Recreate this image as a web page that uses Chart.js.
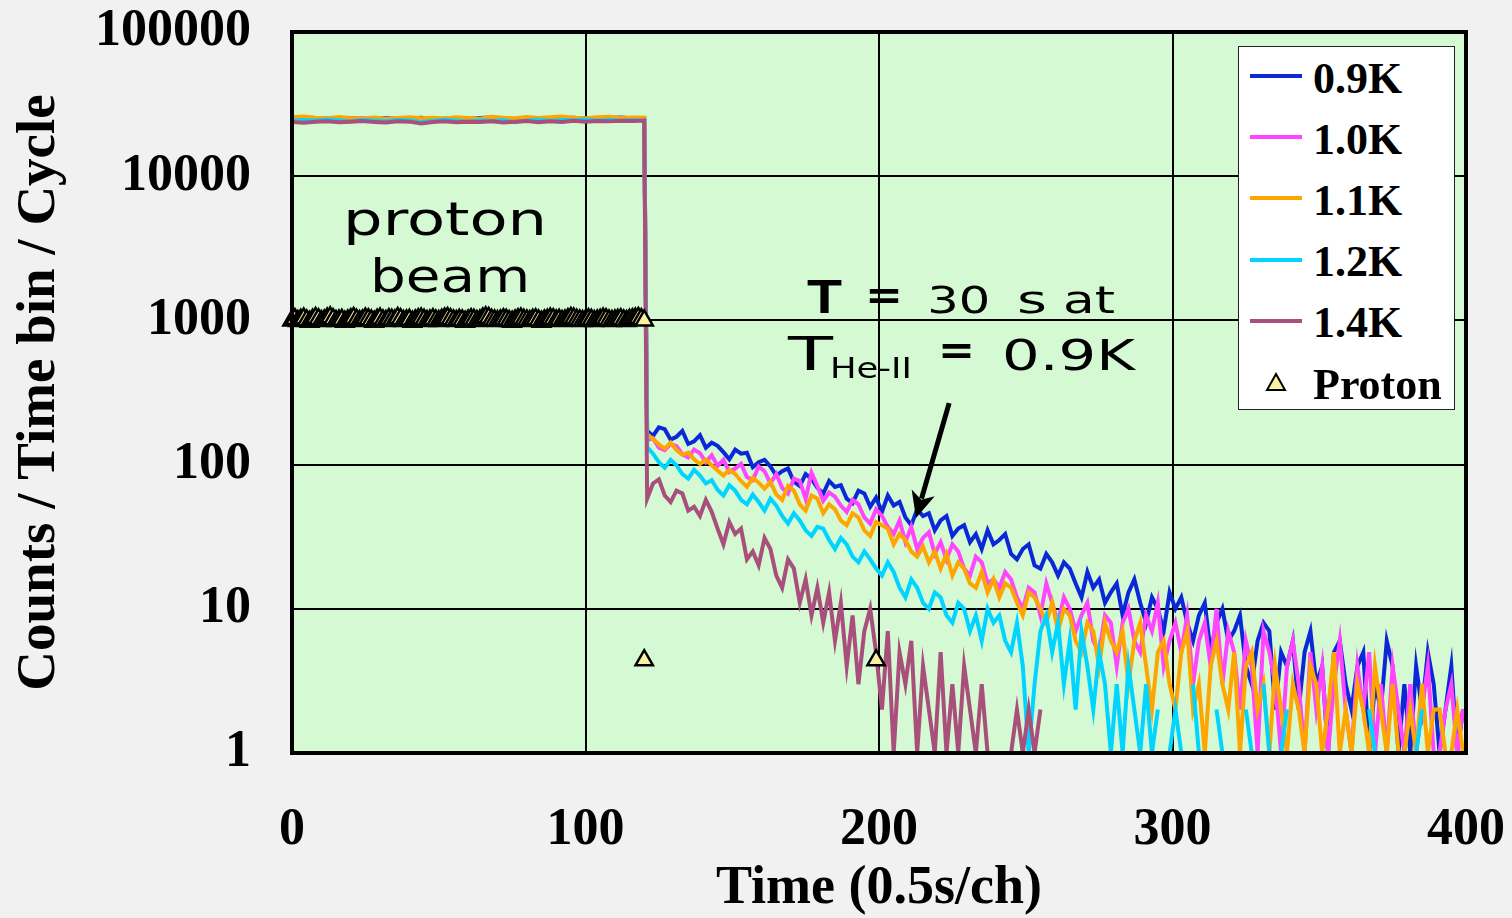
<!DOCTYPE html>
<html>
<head>
<meta charset="utf-8">
<title>Counts / Time bin / Cycle</title>
<script src="https://cdn.jsdelivr.net/npm/chart.js@4.4.1/dist/chart.umd.min.js"></script>
<style>
  html, body { margin: 0; padding: 0; background: #f1f1f1; }
  #wrap { position: relative; width: 1512px; height: 918px; }
  canvas { display: block; }
  .legend {
    position: absolute; left: 1238px; top: 46px; width: 217px; height: 364px;
    box-sizing: border-box; background: #fff; border: 1.5px solid #222;
    font: bold 44px "Liberation Serif", serif; color: #000;
  }
  .legend .swatch { position: absolute; left: 11px; width: 52px; height: 4px; }
  .legend .label { position: absolute; left: 74px; height: 61px; line-height: 61px; white-space: nowrap; }
  .legend svg { position: absolute; left: 26px; }
</style>
</head>
<body>
<div id="wrap">
  <canvas id="chart" width="1512" height="918"></canvas>
  <div class="legend" id="legend"></div>
</div>
<script>
// channel numbers (0.5 s per channel)
const flatChannel = [0,4,8,12,16,20,24,28,32,36,40,44,48,52,56,60,64,68,72,76,80,84,88,92,96,100,104,108,112,116,120];
const decayChannel = [
  121,123,125,127,129,131,133,135,137,139,
  141,143,145,147,149,151,153,155,157,159,
  161,163,165,167,169,171,173,175,177,179,
  181,183,185,187,189,191,193,195,197,199,
  201,203,205,207,209,211,213,215,217,219,
  221,223,225,227,229,231,233,235,237,239,
  241,243,245,247,249,251,253,255,257,259,
  261,263,265,267,269,271,273,275,277,279,
  281,283,285,287,289,291,293,295,297,299,
  301,303,305,307,309,311,313,315,317,319,
  321,323,325,327,329,331,333,335,337,339,
  341,343,345,347,349,351,353,355,357,359,
  361,363,365,367,369,371,373,375,377,379,
  381,383,385,387,389,391,393,395,397,399
];

const seriesNames = ['0.9K', '1.0K', '1.1K', '1.2K', '1.4K'];
const seriesColors = ['#0b28d8', '#ff45ff', '#ffa500', '#00d4ff', '#a84f7c'];

// counts while the proton beam is on
const flat09 = [24800,25300,24900,25100,24700,25200,25000,24800,25300,24900,25100,25400,24800,25000,25200,24900,25300,25500,25000,24800,25100,25300,24900,25200,25400,25000,25100,25300,25500,25200,25300];
const flat10 = [24500,24900,25100,24700,25000,24800,25200,24600,25000,24900,24700,25100,24800,24600,25000,25200,24700,24900,25100,24800,24500,24900,25000,24700,25100,24800,24900,25000,24600,24800,24500];
const flat11 = [25600,25900,25400,25200,25700,25300,25100,25500,25000,25300,25600,25200,25400,25100,25600,25300,25000,25800,25400,25200,25700,25300,25600,25900,25400,25200,25600,25800,25300,25500,25400];
const flat12 = [24200,24500,24300,24700,24400,24000,24600,24300,24100,24500,24400,23800,24200,24600,24300,23900,24400,24100,24500,23700,24300,24600,24200,24500,24400,24700,24300,24600,24200,24500,24300];
const flat14 = [23800,23500,23900,24000,23700,23900,24100,23800,23600,24000,23900,23200,23800,24000,23700,23900,23800,24000,23600,23900,24100,23700,24000,23800,24200,23900,24100,24000,24200,24100,24300];

// counts after the beam (null = zero count, not drawn on log axis)
const decay09 = [
  172,158,181,176,149,156,171,139,145,160,
  131,142,135,122,109,127,119,121,96,104,
  108,97,84,90,94,76,71,86,80,69,
  63,77,70,72,58,54,66,63,51,59,
  47,61,52,55,43,38,49,44,46,35,
  41,44,32,36,38,29,33,26,35,28,
  30,33,24,22,26,28,20,19,24,21,
  17,21,19,15,12,18,14,16,11,13,
  15,9,13,16,11,8,12,10,7,13,
  10,12,8,6,9,11,5,8,10,6,
  7,9,4,3,6,8,7,2,5,4,
  6,2,5,7,3,4,1,5,6,3,
  2,4,5,1,3,2,6,4,1,3,
  1,4,2,5,3,1,2,4,1,2
];
const decay10 = [
  148,152,131,126,139,134,118,112,127,120,
  104,116,98,108,89,94,101,82,78,97,
  90,74,86,69,63,80,77,58,88,71,
  56,64,60,52,47,57,53,43,39,49,
  44,37,33,41,29,37,26,31,34,24,
  29,22,28,25,19,17,23,21,15,16,
  14,18,16,12,10,14,13,9,15,11,
  8,12,10,7,9,11,6,5,9,8,
  4,8,10,6,5,9,7,11,4,6,
  8,5,9,3,6,8,4,10,3,7,
  5,2,6,4,1,7,5,3,1,4,
  6,3,1,5,2,4,1,3,6,2,
  1,4,2,5,1,3,1,4,2,1,
  3,1,2,4,1,1,2,3,1,2
];
const decay11 = [
  162,151,138,129,142,126,117,121,109,101,
  108,99,91,84,92,86,77,70,81,75,
  68,76,62,57,71,66,53,48,61,58,
  46,53,49,41,38,46,43,35,32,40,
  38,36,28,33,30,25,23,27,21,25,
  19,24,17,21,19,15,14,18,13,16,
  12,15,14,11,9,13,12,10,8,11,
  7,10,9,6,5,8,7,4,8,6,
  5,7,3,6,8,4,2,5,6,3,
  2,5,7,2,3,1,4,6,3,2,
  5,1,4,5,2,3,1,4,2,1,
  3,2,1,4,3,1,2,5,1,2,
  1,3,2,1,4,2,1,3,1,1,
  2,1,3,1,2,2,1,1,2,1
];
const decay12 = [
  132,119,104,95,108,99,86,80,92,84,
  74,78,67,61,72,66,57,53,62,55,
  48,58,52,44,39,46,41,35,32,37,
  36,30,26,31,28,23,21,25,22,19,
  17,21,18,14,12,16,14,11,10,13,
  12,9,8,11,10,7,9,6,10,8,
  9,6,5,8,4,1,3,7,9,5,
  8,3,6,2,7,4,2,5,3,1,
  3,1,4,2,1,3,1,2,null,1,
  2,1,null,3,1,1,null,2,1,null,
  1,null,2,1,null,3,1,null,1,2,
  null,1,1,null,2,null,1,1,null,null,
  1,null,null,2,1,null,null,1,null,1,
  null,1,2,null,1,null,null,1,null,null
];
const decay14 = [
  58,74,79,61,55,66,63,48,51,44,
  57,47,36,28,40,33,36,22,25,20,
  31,26,17,14,22,19,11,16,9,14,
  8,13,6,11,4,9,3,7,10,5,
  2,7,1,5,3,6,1,4,2,1,
  5,1,3,1,4,2,1,3,1,null,
  3,null,1,2,1,2,1,2,null,null,
  null,null,null,null,null,null,null,null,null,null,
  null,1,null,null,null,null,null,null,null,null,
  null,null,null,null,null,null,null,null,null,null,
  null,null,null,null,null,null,null,null,null,null,
  null,null,null,null,null,null,null,null,null,null,
  null,null,null,null,null,null,null,null,null,null,
  null,null,null,null,null,null,null,null,null,null
];

// proton monitor
const protonChannel = [
  0,1,2,3,4,5,6,7,8,9,
  10,11,12,13,14,15,16,17,18,19,
  20,21,22,23,24,25,26,27,28,29,
  30,31,32,33,34,35,36,37,38,39,
  40,41,42,43,44,45,46,47,48,49,
  50,51,52,53,54,55,56,57,58,59,
  60,61,62,63,64,65,66,67,68,69,
  70,71,72,73,74,75,76,77,78,79,
  80,81,82,83,84,85,86,87,88,89,
  90,91,92,93,94,95,96,97,98,99,
  100,101,102,103,104,105,106,107,108,109,
  110,111,112,113,114,115,116,117,118,119,
  120,120,199
];
const protonCount = [
  1000,1020,990,1010,1030,1000,980,1010,1040,1020,
  990,1000,1030,1050,1020,990,1000,1010,980,1000,
  1020,1040,1010,990,1000,1030,1020,1000,980,1010,
  1030,1000,990,1020,1010,1000,1040,1020,990,1000,
  1010,980,1000,1020,1030,1010,990,1000,1020,1000,
  990,1010,1030,1040,1020,1000,990,1010,1000,980,
  1000,1020,1010,990,1000,1030,1050,1040,1010,1000,
  990,1000,1020,1010,990,980,1000,1020,1030,1010,
  1000,990,1010,1020,1000,980,1000,1010,1030,1020,
  1000,1010,990,1000,1020,1040,1030,1010,1000,990,
  1000,1020,1010,990,1000,1010,1030,1020,1000,990,
  1000,1010,1020,1000,990,1010,1020,1030,1040,1020,
  1000,4.4,4.4
];

const yTicks = [1, 10, 100, 1000, 10000, 100000];
const xTitle = 'Time (0.5s/ch)';
const yTitle = 'Counts / Time bin / Cycle';

const flatSets = [flat09, flat10, flat11, flat12, flat14];
const decaySets = [decay09, decay10, decay11, decay12, decay14];

function toPoints(flat, decay) {
  const a = flatChannel.map((t, i) => ({ x: t, y: flat[i] }));
  const b = decayChannel.map((t, i) => ({ x: t, y: decay[i] }));
  return a.concat(b);
}

const datasets = seriesNames.map((name, i) => ({
  label: name,
  data: toPoints(flatSets[i], decaySets[i]),
  borderColor: seriesColors[i],
  backgroundColor: seriesColors[i],
  borderWidth: 4,
  pointRadius: 0,
  tension: 0,
  spanGaps: false,
  order: seriesNames.length - i
}));

datasets.push({
  label: 'Proton',
  data: protonChannel.map((t, i) => ({ x: t, y: protonCount[i] })),
  showLine: false,
  pointStyle: 'triangle',
  pointRadius: 10,
  pointBorderWidth: 2.5,
  pointBackgroundColor: '#f9f0a0',
  pointBorderColor: '#000',
  order: 0,
  clip: false
});

// hand written notes, placed in data coordinates
const notes = [
  { text: 'proton', t: 17.4, v: 3910, w: 204, font: '46px "DejaVu Sans"' },
  { text: 'beam', t: 26.6, v: 1574, w: 160, font: '46px "DejaVu Sans"' },
  { text: 'T', t: 175.5, v: 1125, w: 35, font: 'bold 49px "Liberation Sans"' },
  { text: '=', t: 195.2, v: 1191, w: 38, font: 'bold 40px "DejaVu Sans"' },
  { text: '30', t: 216.4, v: 1125, w: 63, font: '38px "DejaVu Sans"' },
  { text: 's', t: 247.0, v: 1125, w: 30, font: '38px "DejaVu Sans"' },
  { text: 'at', t: 262.7, v: 1125, w: 52, font: '38px "DejaVu Sans"' },
  { text: 'T', t: 169.0, v: 453, w: 45, font: '46px "DejaVu Sans"' },
  { text: 'He-II', t: 183.3, v: 399, w: 82, font: '29px "DejaVu Sans"' },
  { text: '=', t: 220.1, v: 499, w: 37, font: 'bold 40px "DejaVu Sans"' },
  { text: '0.9K', t: 241.9, v: 453, w: 133, font: '42px "DejaVu Sans"' }
];
const arrowFrom = { t: 223.9, v: 267 };
const arrowTo = { t: 212.6, v: 42.7 };

const plotFrame = {
  id: 'plotFrame',
  beforeDraw(chart) {
    const { ctx, chartArea: a } = chart;
    ctx.save();
    ctx.fillStyle = '#d5f9d3';
    ctx.fillRect(a.left, a.top, a.width, a.height);
    ctx.restore();
  },
  afterDatasetsDraw(chart) {
    const { ctx, chartArea: a, scales } = chart;
    ctx.save();
    ctx.strokeStyle = '#000';
    ctx.lineWidth = 4;
    ctx.strokeRect(a.left, a.top, a.width, a.height);

    ctx.fillStyle = '#000';
    ctx.textAlign = 'left';
    ctx.textBaseline = 'alphabetic';
    notes.forEach(n => {
      ctx.font = n.font;
      const m = ctx.measureText(n.text).width;
      ctx.save();
      ctx.translate(scales.x.getPixelForValue(n.t), scales.y.getPixelForValue(n.v));
      ctx.scale(n.w / m, 1);
      ctx.fillText(n.text, 0, 0);
      ctx.restore();
    });

    // arrow
    const x0 = scales.x.getPixelForValue(arrowFrom.t), y0 = scales.y.getPixelForValue(arrowFrom.v);
    const x1 = scales.x.getPixelForValue(arrowTo.t), y1 = scales.y.getPixelForValue(arrowTo.v);
    const len = Math.hypot(x1 - x0, y1 - y0);
    const dx = (x1 - x0) / len, dy = (y1 - y0) / len;
    const bx = x1 - dx * 26, by = y1 - dy * 26;
    ctx.lineWidth = 5;
    ctx.beginPath();
    ctx.moveTo(x0, y0);
    ctx.lineTo(bx + dx * 6, by + dy * 6);
    ctx.stroke();
    ctx.beginPath();
    ctx.moveTo(x1, y1);
    ctx.lineTo(bx - dy * 12, by + dx * 12);
    ctx.lineTo(bx + dx * 7, by + dy * 7);
    ctx.lineTo(bx + dy * 12, by - dx * 12);
    ctx.closePath();
    ctx.fill();

    // x axis title, below the tick labels
    ctx.font = 'bold 54px "Liberation Serif", serif';
    ctx.textAlign = 'center';
    ctx.textBaseline = 'middle';
    ctx.fillText(xTitle, (a.left + a.right) / 2, a.bottom + 136);
    ctx.restore();
  }
};

const tickFont = { family: '"Liberation Serif", serif', size: 52, weight: 'bold' };

new Chart(document.getElementById('chart').getContext('2d'), {
  type: 'line',
  data: { datasets },
  options: {
    responsive: false,
    animation: false,
    events: [],
    layout: { padding: 0 },
    plugins: {
      legend: { display: false },
      tooltip: { enabled: false }
    },
    scales: {
      x: {
        type: 'linear',
        min: 0,
        max: 400,
        ticks: { stepSize: 100, color: '#000', font: tickFont, padding: 46, maxRotation: 0 },
        grid: { color: '#000', lineWidth: 2, drawTicks: false },
        border: { display: false },
        afterFit: s => {
          s.height = 165;
          s.paddingLeft = 0;
          s.paddingRight = 46;
        }
      },
      y: {
        type: 'logarithmic',
        min: 1,
        max: 100000,
        afterBuildTicks: s => { s.ticks = yTicks.map(v => ({ value: v })); },
        ticks: { color: '#000', font: tickFont, padding: 41, callback: v => String(v) },
        grid: { color: '#000', lineWidth: 2, drawTicks: false },
        border: { display: false },
        title: {
          display: true,
          text: yTitle,
          color: '#000',
          font: { family: '"Liberation Serif", serif', size: 55, weight: 'bold' },
          padding: { top: 7, bottom: 0 }
        },
        afterFit: s => {
          s.width = 292;
          s.paddingTop = 32;
          s.paddingBottom = 0;
        }
      }
    }
  },
  plugins: [plotFrame]
});

// legend box
const legend = document.getElementById('legend');
const rowStep = 61.2;
seriesNames.concat(['Proton']).forEach((name, i) => {
  const cy = 29 + rowStep * i;
  if (i < seriesNames.length) {
    const sw = document.createElement('div');
    sw.className = 'swatch';
    sw.style.top = (cy - 2) + 'px';
    sw.style.background = seriesColors[i];
    legend.appendChild(sw);
  } else {
    const ns = 'http://www.w3.org/2000/svg';
    const svg = document.createElementNS(ns, 'svg');
    svg.setAttribute('width', '22');
    svg.setAttribute('height', '20');
    svg.style.top = (cy - 10) + 'px';
    const tri = document.createElementNS(ns, 'polygon');
    tri.setAttribute('points', '11,2 20,18 2,18');
    tri.setAttribute('fill', '#f9f0a0');
    tri.setAttribute('stroke', '#000');
    tri.setAttribute('stroke-width', '2');
    svg.appendChild(tri);
    legend.appendChild(svg);
  }
  const lb = document.createElement('div');
  lb.className = 'label';
  lb.style.top = (cy - 30.5 + 2) + 'px';
  lb.textContent = name;
  legend.appendChild(lb);
});
</script>
</body>
</html>
